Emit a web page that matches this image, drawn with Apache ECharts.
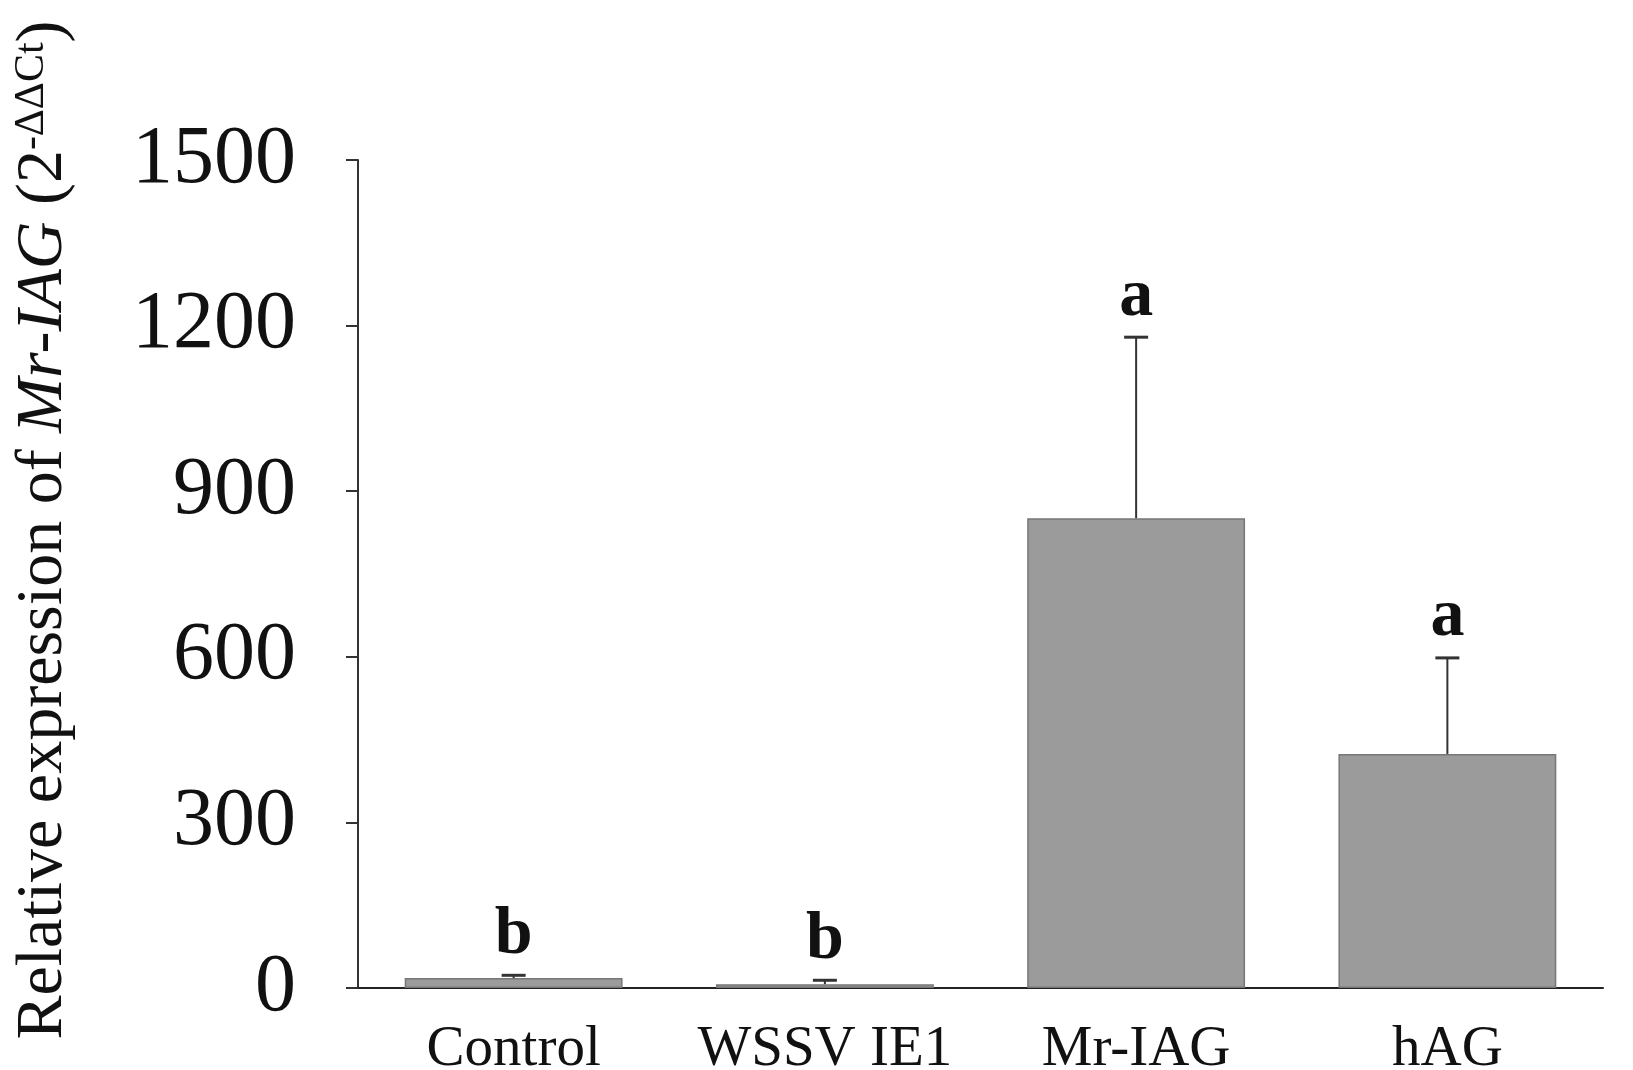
<!DOCTYPE html>
<html>
<head>
<meta charset="utf-8">
<script src="https://cdn.jsdelivr.net/npm/echarts@6/dist/echarts.min.js"></script>
<style>
  html, body { margin: 0; padding: 0; background: #fff; }
  #chart { width: 1633px; height: 1070px; }
</style>
</head>
<body>
<div id="chart"></div>
<script>
// data
var categories = ['Control', 'WSSV IE1', 'Mr-IAG', 'hAG'];
var means = [18, 7, 851, 424];
var errors = [5, 7, 328, 174];
var letters = ['b', 'b', 'a', 'a'];
var yTicks = [0, 300, 600, 900, 1200, 1500];

var serif = '"Liberation Serif", "Times New Roman", serif';

var errData = categories.map(function (c, i) {
    return [i, means[i], errors[i], letters[i]];
});

var chart = echarts.init(document.getElementById('chart'));

chart.setOption({
    animation: false,
    backgroundColor: '#fff',
    grid: { left: 358, right: 30, top: 160, bottom: 82, outerBoundsMode: 'none' },
    xAxis: {
        type: 'category',
        data: categories,
        axisLine: { lineStyle: { color: '#222', width: 2 } },
        axisTick: { alignWithLabel: true, length: 12, lineStyle: { color: '#222', width: 2 } },
        axisLabel: { interval: 0, fontFamily: serif, fontSize: 57, color: '#111', margin: 34 }
    },
    yAxis: {
        type: 'value',
        min: yTicks[0],
        max: yTicks[yTicks.length - 1],
        interval: 300,
        splitLine: { show: false },
        axisLine: { show: true, lineStyle: { color: '#333', width: 2 } },
        axisTick: { show: true, length: 12, lineStyle: { color: '#333', width: 2 } },
        axisLabel: {
            fontFamily: serif, fontSize: 82, color: '#111', margin: 62,
            formatter: function (v) { return String(v); }
        }
    },
    graphic: [{
        type: 'text',
        x: 44,
        y: 530,
        rotation: Math.PI / 2,
        style: {
            text: '{n|Relative expression of }{i|Mr-IAG}{n| (2}{s|-ΔΔCt}{n|)}',
            align: 'center',
            verticalAlign: 'middle',
            rich: {
                n: { fontFamily: serif, fontSize: 66, fill: '#111' },
                i: { fontFamily: serif, fontSize: 66, fontStyle: 'italic', fill: '#111' },
                s: { fontFamily: serif, fontSize: 42, fill: '#111', verticalAlign: 'top', padding: [0, 0, 24, 0] }
            }
        }
    }],
    series: [{
        type: 'bar',
        data: means,
        barWidth: '70%',
        itemStyle: { color: '#9b9b9b', borderColor: '#777', borderWidth: 1.5 }
    }, {
        type: 'custom',
        data: errData,
        z: 5,
        renderItem: function (params, api) {
            var x = api.coord([api.value(0), 0])[0];
            var yMean = api.coord([api.value(0), api.value(1)])[1];
            var yTop = api.coord([api.value(0), api.value(1) + api.value(2)])[1];
            var capHalf = 12;
            return {
                type: 'group',
                children: [
                    { type: 'line', shape: { x1: x, y1: yMean, x2: x, y2: yTop }, style: { stroke: '#333', lineWidth: 2 } },
                    { type: 'line', shape: { x1: x - capHalf, y1: yTop, x2: x + capHalf, y2: yTop }, style: { stroke: '#333', lineWidth: 3 } },
                    {
                        type: 'text',
                        x: x,
                        y: yTop - 6,
                        style: {
                            text: letters[params.dataIndex],
                            fontFamily: serif,
                            fontWeight: 'bold',
                            fontSize: 68,
                            fill: '#111',
                            align: 'center',
                            verticalAlign: 'bottom'
                        }
                    }
                ]
            };
        }
    }]
});
</script>
</body>
</html>
